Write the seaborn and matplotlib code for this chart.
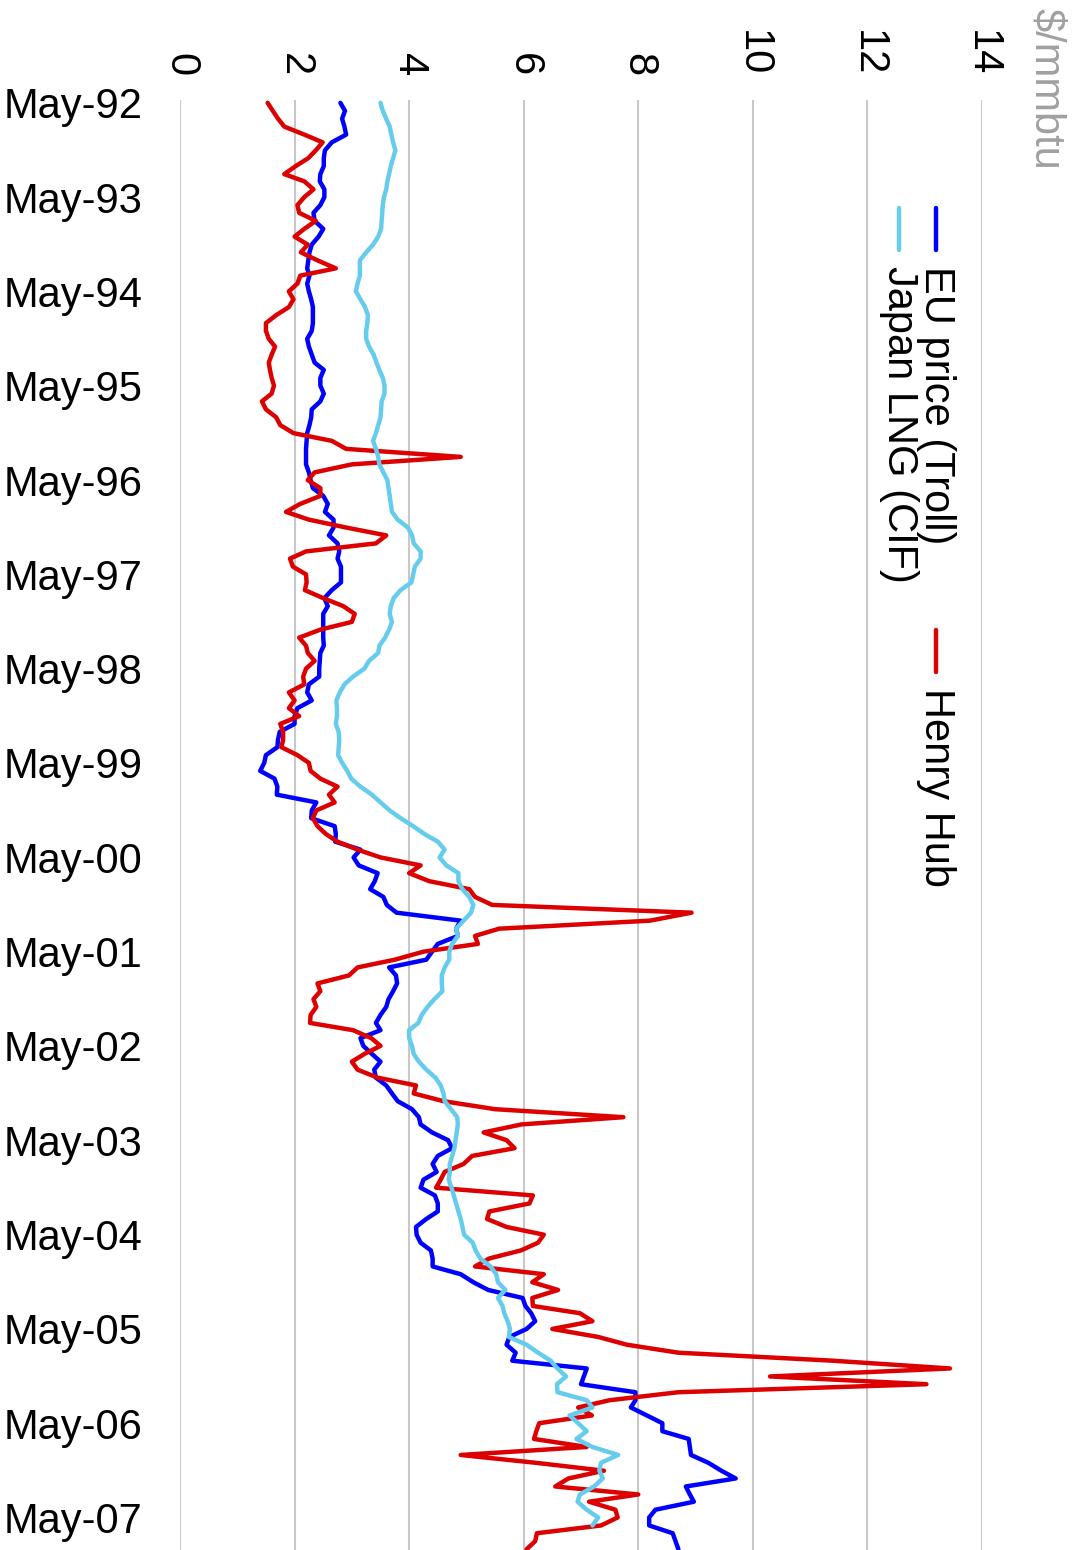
import pandas as pd
import seaborn as sns
import matplotlib.pyplot as plt
import matplotlib.dates as mdates

# monthly prices, $/mmbtu, starting May-92
henry_hub = [
    1.53, 1.62, 1.71, 1.82, 2.17, 2.49, 2.37, 2.24, 2.02, 1.82, 2.17, 2.33, 2.17, 2.05, 2.08, 2.37, 2.17, 2.0, 2.23, 2.11, 2.4, 2.72, 2.1,
    2.05, 1.9, 1.98, 1.9, 1.68, 1.5, 1.5, 1.55, 1.66, 1.6, 1.55, 1.57, 1.6, 1.64, 1.6, 1.43, 1.5, 1.68, 1.75, 1.98, 2.65, 2.9,
    4.9, 3.0, 2.35, 2.23, 2.45, 2.45, 2.1, 1.85, 2.25, 2.91, 3.6, 3.42, 2.2, 1.92, 1.97, 2.2, 2.21, 2.18, 2.5, 2.85, 3.05, 3.0, 2.45, 2.08,
    2.2, 2.23, 2.35, 2.2, 2.15, 2.17, 1.9, 2.0, 1.9, 2.08, 1.75, 1.8, 1.8, 1.77, 2.05, 2.25, 2.28, 2.45, 2.75, 2.6, 2.7, 2.38, 2.32,
    2.4, 2.55, 2.75, 3.1, 3.5, 4.2, 4.0, 4.35, 5.05, 5.15, 5.45, 8.93, 8.2, 5.57, 5.15, 5.2, 4.25, 3.75, 3.1, 2.95, 2.4, 2.45, 2.33,
    2.38, 2.28, 2.27, 3.02, 3.34, 3.5, 3.22, 3.0, 3.1, 3.45, 4.12, 4.08, 4.6, 5.5, 7.74, 5.96, 5.3, 5.7, 5.84, 5.1, 4.95, 4.62, 4.55,
    4.47, 6.16, 6.1, 5.4, 5.36, 5.7, 6.35, 6.25, 5.95, 5.4, 5.15, 6.35, 6.15, 6.6, 6.15, 6.16, 6.98, 7.2, 6.5, 7.3, 7.8, 8.7,
    11.4, 13.44, 10.3, 13.03, 8.7, 7.5, 6.95, 7.19, 6.27, 6.22, 6.18, 7.1, 4.9, 6.2, 7.4, 6.78, 6.55, 8.0, 7.14, 7.6, 7.64, 7.35, 6.23, 6.2, 6.05,
]
eu_price = [
    2.8, 2.88, 2.83, 2.87, 2.9, 2.65, 2.53, 2.51, 2.51, 2.45, 2.44, 2.52, 2.52, 2.45, 2.33, 2.35, 2.5, 2.42, 2.3, 2.26, 2.24, 2.22, 2.26,
    2.22, 2.25, 2.29, 2.32, 2.32, 2.32, 2.3, 2.22, 2.25, 2.3, 2.35, 2.51, 2.45, 2.45, 2.51, 2.45, 2.3, 2.29, 2.26, 2.22, 2.21, 2.2,
    2.2, 2.2, 2.25, 2.28, 2.32, 2.5, 2.58, 2.53, 2.68, 2.68, 2.6, 2.75, 2.78, 2.75, 2.81, 2.81, 2.81, 2.65, 2.52, 2.58, 2.5, 2.5, 2.5, 2.5,
    2.51, 2.45, 2.44, 2.43, 2.43, 2.25, 2.22, 2.3, 2.05, 2.0, 2.0, 1.74, 1.71, 1.7, 1.5, 1.47, 1.4, 1.65, 1.7, 1.69, 2.38, 2.3, 2.29,
    2.7, 2.72, 2.71, 3.15, 3.03, 3.12, 3.45, 3.4, 3.32, 3.55, 3.61, 3.78, 4.9, 4.82, 4.85, 4.5, 4.4, 4.3, 3.65, 3.77, 3.79, 3.72, 3.64,
    3.6, 3.5, 3.42, 3.5, 3.15, 3.2, 3.35, 3.5, 3.39, 3.42, 3.6, 3.7, 3.8, 4.05, 4.17, 4.2, 4.4, 4.68, 4.75, 4.5, 4.41, 4.48, 4.25,
    4.2, 4.45, 4.5, 4.5, 4.3, 4.12, 4.13, 4.2, 4.38, 4.41, 4.41, 4.9, 5.12, 5.38, 5.98, 6.03, 6.13, 6.2, 6.05, 5.75, 5.7, 5.86,
    5.8, 7.1, 7.05, 7.0, 7.95, 7.95, 7.87, 8.15, 8.42, 8.42, 8.88, 8.9, 8.92, 9.22, 9.45, 9.7, 8.83, 8.9, 8.97, 8.3, 8.19, 8.19, 8.6, 8.65, 8.7,
]
japan_lng = [
    3.5, 3.54, 3.6, 3.66, 3.69, 3.72, 3.76, 3.72, 3.68, 3.65, 3.62, 3.6, 3.56, 3.54, 3.53, 3.52, 3.51, 3.46, 3.37, 3.25, 3.14, 3.14, 3.14,
    3.1, 3.07, 3.15, 3.23, 3.28, 3.27, 3.25, 3.25, 3.3, 3.38, 3.43, 3.48, 3.54, 3.57, 3.57, 3.52, 3.51, 3.5, 3.46, 3.42, 3.37, 3.42,
    3.46, 3.48, 3.55, 3.62, 3.64, 3.66, 3.68, 3.7, 3.8, 3.98, 4.05, 4.08, 4.2, 4.2, 4.1, 4.07, 4.04, 3.85, 3.73, 3.68, 3.66, 3.7, 3.65, 3.58,
    3.48, 3.46, 3.3, 3.22, 3.02, 2.87, 2.79, 2.73, 2.74, 2.74, 2.72, 2.77, 2.78, 2.77, 2.76, 2.83, 2.92, 2.99, 3.15, 3.35, 3.5, 3.66, 3.85,
    4.07, 4.27, 4.5, 4.62, 4.53, 4.65, 4.86, 4.86, 4.93, 5.05, 5.12, 5.08, 4.95, 4.82, 4.85, 4.75, 4.7, 4.7, 4.62, 4.57, 4.57, 4.58, 4.44,
    4.32, 4.22, 4.16, 4.0, 4.0, 4.05, 4.08, 4.17, 4.3, 4.46, 4.55, 4.6, 4.62, 4.73, 4.84, 4.85, 4.83, 4.81, 4.79, 4.75, 4.71, 4.71, 4.69,
    4.74, 4.78, 4.82, 4.86, 4.9, 4.93, 4.96, 5.11, 5.16, 5.24, 5.42, 5.52, 5.55, 5.68, 5.55, 5.63, 5.66, 5.72, 5.76, 5.74, 6.05, 6.25,
    6.47, 6.59, 6.74, 6.58, 6.59, 7.1, 7.2, 6.8, 6.95, 7.1, 6.92, 7.2, 7.65, 7.35, 7.32, 7.38, 7.23, 6.98, 6.94, 7.1, 7.3, 7.2,
]

series_names = ["EU price (Troll)", "Henry Hub", "Japan LNG (CIF)"]
colors = {"EU price (Troll)": "#0000FF", "Henry Hub": "#DD0000", "Japan LNG (CIF)": "#66CCEE"}

months = pd.date_range("1992-05-01", periods=len(henry_hub), freq="MS")
frames = []
for name, vals in zip(series_names, [eu_price, henry_hub, japan_lng]):
    frames.append(pd.DataFrame({"month": months[:len(vals)], "price": vals, "series": name}))
df = pd.concat(frames, ignore_index=True)

sns.set_theme(style="white")
plt.rcParams["font.family"] = ["Liberation Sans", "DejaVu Sans"]

fig = plt.figure(figsize=(10.79, 15.5), dpi=100)
ax = fig.add_axes([180 / 1079, 0, 802 / 1079, 1450 / 1550])

# chart is drawn rotated: prices along x, time running down
sns.lineplot(data=df, x="price", y="month", hue="series", hue_order=series_names,
             palette=colors, orient="y", estimator=None, sort=True,
             linewidth=3.2, legend=False, ax=ax)

ax.set_xlim(0, 14)
ax.set_xticks(range(0, 15, 2))
ax.xaxis.tick_top()
ax.tick_params(axis="x", labelrotation=-90, labelsize=30, pad=17, length=0, colors="black")
ax.set_ylim(pd.Timestamp("2007-09-04"), pd.Timestamp("1992-04-20"))
ax.set_yticks(pd.date_range("1992-05-01", "2007-05-01", freq="12MS"))
ax.yaxis.set_major_formatter(mdates.DateFormatter("%b-%y"))
ax.tick_params(axis="y", labelsize=30, pad=27, length=0, colors="black")
ax.set_xlabel("")
ax.set_ylabel("")
ax.grid(axis="x", color="#C8C8C8", linewidth=1.5)
ax.grid(axis="y", visible=False)
for s in ax.spines.values():
    s.set_visible(False)

# legend, rotated with the chart
def px(x, y):
    return x / 1079, 1 - y / 1550

legend_items = [("EU price (Troll)", 936, 208), ("Japan LNG (CIF)", 899, 208), ("Henry Hub", 936, 630)]
for name, x, y in legend_items:
    x0, y0 = px(x, y)
    x1, y1 = px(x, y + 42)
    fig.add_artist(plt.Line2D([x0, x1], [y0, y1], color=colors[name], lw=3.2,
                              solid_capstyle="round", transform=fig.transFigure))
    tx, ty = px(x, y + 58)
    fig.text(tx, ty, name, rotation=-90, ha="center", va="top", fontsize=30, color="black")

ux, uy = px(1046, 8)
fig.text(ux, uy, "$/mmbtu", rotation=-90, ha="center", va="top", fontsize=30, color="#A0A0A0")

fig.savefig("out.png", dpi=100)
